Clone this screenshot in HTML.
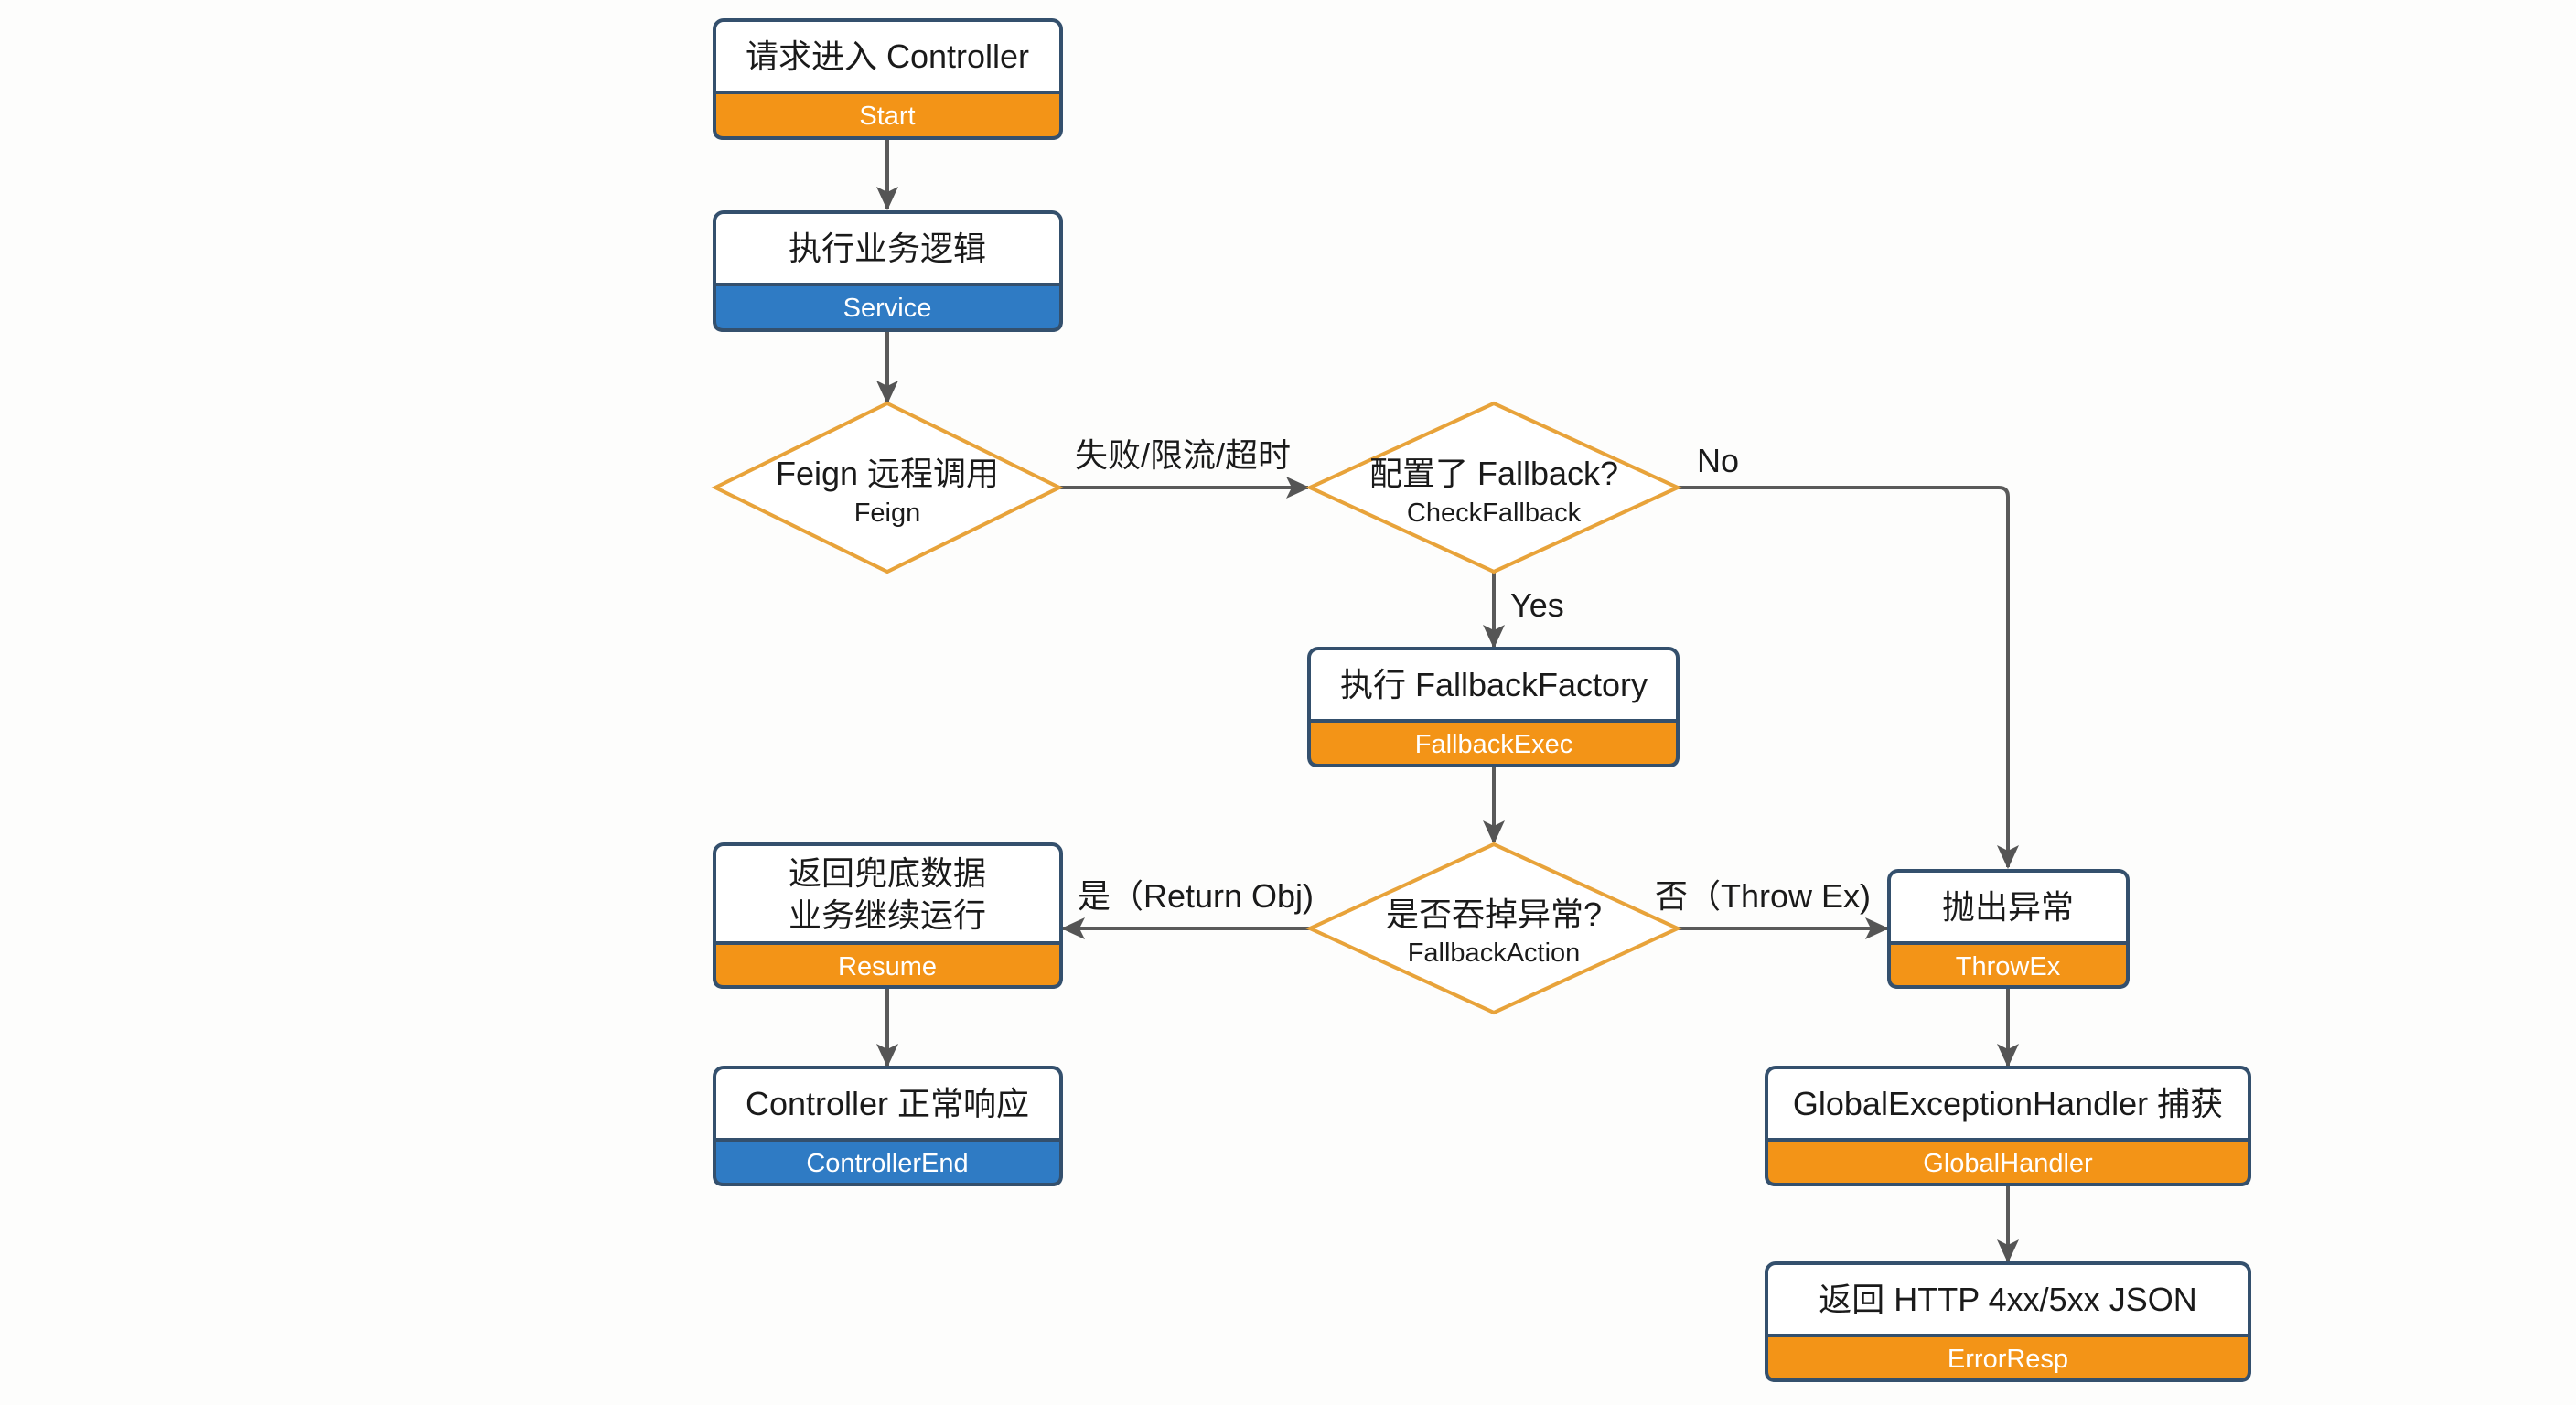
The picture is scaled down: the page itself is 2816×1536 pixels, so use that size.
<!DOCTYPE html>
<html><head><meta charset="utf-8"><style>
html,body{margin:0;padding:0;background:#fdfdfc;}
svg{display:block;}
text{font-family:"Liberation Sans","Noto Sans CJK SC",sans-serif;fill:#1a1a1a;}
.t{font-size:36px;}
.b{font-size:29px;fill:#fff;}
.s{font-size:29px;}
</style></head><body>
<svg width="2816" height="1536" viewBox="0 0 2816 1536" xmlns="http://www.w3.org/2000/svg">
<defs>
<marker id="a" markerWidth="26" markerHeight="26" refX="24" refY="13" orient="auto" markerUnits="userSpaceOnUse" viewBox="0 0 26 26">
<path d="M0,1 L26,13 L0,25 L6,13 z" fill="#555"/></marker>
</defs>
<g stroke="#5a5a5a" stroke-width="4" fill="none">
<line x1="970" y1="151" x2="970" y2="228" marker-end="url(#a)"/>
<line x1="970" y1="361" x2="970" y2="440" marker-end="url(#a)"/>
<line x1="1158" y1="533" x2="1430" y2="533" marker-end="url(#a)"/>
<path d="M1834,533 H2185 Q2195,533 2195,543 V948" marker-end="url(#a)"/>
<line x1="1633" y1="625" x2="1633" y2="707" marker-end="url(#a)"/>
<line x1="1633" y1="837" x2="1633" y2="921" marker-end="url(#a)"/>
<line x1="1432" y1="1015" x2="1162" y2="1015" marker-end="url(#a)"/>
<line x1="1834" y1="1015" x2="2063" y2="1015" marker-end="url(#a)"/>
<line x1="970" y1="1079" x2="970" y2="1165" marker-end="url(#a)"/>
<line x1="2195" y1="1079" x2="2195" y2="1165" marker-end="url(#a)"/>
<line x1="2195" y1="1295" x2="2195" y2="1379" marker-end="url(#a)"/>
</g>
<g stroke-width="4">
<polygon points="970,441 1158,533 970,625 782,533" fill="#fff" stroke="#E8A33A"/>
<polygon points="1633,441 1834,533 1633,625 1432,533" fill="#fff" stroke="#E8A33A"/>
<polygon points="1633,923 1834,1015 1633,1107 1432,1015" fill="#fff" stroke="#E8A33A"/>
</g>
<g stroke="#34506d" stroke-width="4">
<rect x="781" y="22" width="379" height="129" rx="10" fill="#fff"/>
<path d="M781,101 H1160 V141 Q1160,151 1150,151 H791 Q781,151 781,141 Z" fill="#F39417"/>
<rect x="781" y="232" width="379" height="129" rx="10" fill="#fff"/>
<path d="M781,311 H1160 V351 Q1160,361 1150,361 H791 Q781,361 781,351 Z" fill="#2F7BC4"/>
<rect x="1431" y="709" width="403" height="128" rx="10" fill="#fff"/>
<path d="M1431,788 H1834 V827 Q1834,837 1824,837 H1441 Q1431,837 1431,827 Z" fill="#F39417"/>
<rect x="781" y="923" width="379" height="156" rx="10" fill="#fff"/>
<path d="M781,1031 H1160 V1069 Q1160,1079 1150,1079 H791 Q781,1079 781,1069 Z" fill="#F39417"/>
<rect x="2065" y="952" width="261" height="127" rx="10" fill="#fff"/>
<path d="M2065,1031 H2326 V1069 Q2326,1079 2316,1079 H2075 Q2065,1079 2065,1069 Z" fill="#F39417"/>
<rect x="781" y="1167" width="379" height="128" rx="10" fill="#fff"/>
<path d="M781,1246 H1160 V1285 Q1160,1295 1150,1295 H791 Q781,1295 781,1285 Z" fill="#2F7BC4"/>
<rect x="1931" y="1167" width="528" height="128" rx="10" fill="#fff"/>
<path d="M1931,1246 H2459 V1285 Q2459,1295 2449,1295 H1941 Q1931,1295 1931,1285 Z" fill="#F39417"/>
<rect x="1931" y="1381" width="528" height="128" rx="10" fill="#fff"/>
<path d="M1931,1460 H2459 V1499 Q2459,1509 2449,1509 H1941 Q1931,1509 1931,1499 Z" fill="#F39417"/>
</g>
<g text-anchor="middle">
<text class="t" x="970" y="74">请求进入 Controller</text>
<text class="b" x="970" y="136">Start</text>
<text class="t" x="970" y="284">执行业务逻辑</text>
<text class="b" x="970" y="346">Service</text>
<text class="t" x="970" y="530">Feign 远程调用</text>
<text class="s" x="970" y="570">Feign</text>
<text class="t" x="1633" y="530">配置了 Fallback?</text>
<text class="s" x="1633" y="570">CheckFallback</text>
<text class="t" x="1633" y="761">执行 FallbackFactory</text>
<text class="b" x="1633" y="823">FallbackExec</text>
<text class="t" x="1633" y="1012">是否吞掉异常?</text>
<text class="s" x="1633" y="1051">FallbackAction</text>
<text class="t" x="970" y="967">返回兜底数据</text>
<text class="t" x="970" y="1013">业务继续运行</text>
<text class="b" x="970" y="1066">Resume</text>
<text class="t" x="2195" y="1004">抛出异常</text>
<text class="b" x="2195" y="1066">ThrowEx</text>
<text class="t" x="970" y="1219">Controller 正常响应</text>
<text class="b" x="970" y="1281">ControllerEnd</text>
<text class="t" x="2195" y="1219">GlobalExceptionHandler 捕获</text>
<text class="b" x="2195" y="1281">GlobalHandler</text>
<text class="t" x="2195" y="1433">返回 HTTP 4xx/5xx JSON</text>
<text class="b" x="2195" y="1495">ErrorResp</text>
<text class="t" x="1293" y="510">失败/限流/超时</text>
<text class="t" x="1307" y="992">是（Return Obj)</text>
<text class="t" x="1927" y="992">否（Throw Ex)</text>
</g>
<text class="t" x="1855" y="516">No</text>
<text class="t" x="1651" y="674">Yes</text>
</svg>
</body></html>
